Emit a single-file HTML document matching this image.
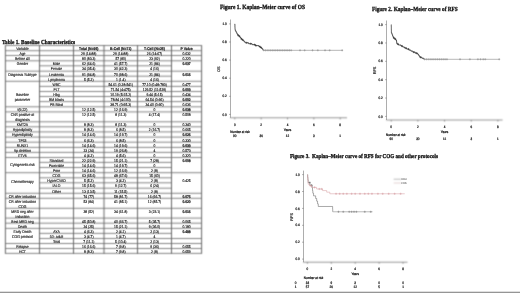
<!DOCTYPE html>
<html><head><meta charset="utf-8"><style>
html,body{margin:0;padding:0;background:#fff;width:520px;height:293px;overflow:hidden}
#w{position:absolute;left:0;top:0;width:520px;height:293px;will-change:transform}
svg{position:absolute;left:0;top:0;display:block}
text{white-space:pre;text-rendering:geometricPrecision}
</style></head><body>
<div id="w"><svg width="520" height="293" viewBox="0 0 520 293">
<defs></defs>
<filter id="soft" filterUnits="userSpaceOnUse" x="0" y="0" width="520" height="293" color-interpolation-filters="sRGB"><feConvolveMatrix order="3" kernelMatrix="1 3 1 3 9 3 1 3 1" edgeMode="duplicate"/></filter>
<g filter="url(#soft)">
<rect x="0" y="0" width="520" height="293" fill="#fff"/>
<line x1="5.40" y1="45.10" x2="5.40" y2="253.80" stroke="#555" stroke-width="0.9"/>
<line x1="39.50" y1="45.10" x2="39.50" y2="253.80" stroke="#555" stroke-width="0.9"/>
<line x1="73.50" y1="45.10" x2="73.50" y2="253.80" stroke="#555" stroke-width="0.9"/>
<line x1="104.00" y1="45.10" x2="104.00" y2="253.80" stroke="#555" stroke-width="0.9"/>
<line x1="137.50" y1="45.10" x2="137.50" y2="253.80" stroke="#555" stroke-width="0.9"/>
<line x1="171.50" y1="45.10" x2="171.50" y2="253.80" stroke="#555" stroke-width="0.9"/>
<line x1="201.60" y1="45.10" x2="201.60" y2="253.80" stroke="#555" stroke-width="0.9"/>
<line x1="5.40" y1="45.50" x2="201.60" y2="45.50" stroke="#666" stroke-width="0.8"/>
<line x1="5.40" y1="50.70" x2="39.50" y2="50.70" stroke="#666" stroke-width="0.8"/>
<line x1="39.50" y1="50.70" x2="171.50" y2="50.70" stroke="#666" stroke-width="0.8"/>
<line x1="171.50" y1="50.70" x2="201.60" y2="50.70" stroke="#666" stroke-width="0.8"/>
<line x1="5.40" y1="55.50" x2="39.50" y2="55.50" stroke="#666" stroke-width="0.8"/>
<line x1="39.50" y1="55.50" x2="171.50" y2="55.50" stroke="#666" stroke-width="0.8"/>
<line x1="171.50" y1="55.50" x2="201.60" y2="55.50" stroke="#666" stroke-width="0.8"/>
<line x1="5.40" y1="60.80" x2="39.50" y2="60.80" stroke="#666" stroke-width="0.8"/>
<line x1="39.50" y1="60.80" x2="171.50" y2="60.80" stroke="#666" stroke-width="0.8"/>
<line x1="171.50" y1="60.80" x2="201.60" y2="60.80" stroke="#666" stroke-width="0.8"/>
<line x1="39.50" y1="65.80" x2="171.50" y2="65.80" stroke="#666" stroke-width="0.8"/>
<line x1="5.40" y1="71.20" x2="39.50" y2="71.20" stroke="#666" stroke-width="0.8"/>
<line x1="39.50" y1="71.20" x2="171.50" y2="71.20" stroke="#666" stroke-width="0.8"/>
<line x1="171.50" y1="71.20" x2="201.60" y2="71.20" stroke="#666" stroke-width="0.8"/>
<line x1="39.50" y1="76.20" x2="171.50" y2="76.20" stroke="#666" stroke-width="0.8"/>
<line x1="5.40" y1="81.30" x2="39.50" y2="81.30" stroke="#666" stroke-width="0.8"/>
<line x1="39.50" y1="81.30" x2="171.50" y2="81.30" stroke="#666" stroke-width="0.8"/>
<line x1="171.50" y1="81.30" x2="201.60" y2="81.30" stroke="#666" stroke-width="0.8"/>
<line x1="39.50" y1="86.40" x2="171.50" y2="86.40" stroke="#666" stroke-width="0.8"/>
<line x1="171.50" y1="86.40" x2="201.60" y2="86.40" stroke="#666" stroke-width="0.8"/>
<line x1="39.50" y1="91.50" x2="171.50" y2="91.50" stroke="#666" stroke-width="0.8"/>
<line x1="171.50" y1="91.50" x2="201.60" y2="91.50" stroke="#666" stroke-width="0.8"/>
<line x1="39.50" y1="96.50" x2="171.50" y2="96.50" stroke="#666" stroke-width="0.8"/>
<line x1="171.50" y1="96.50" x2="201.60" y2="96.50" stroke="#666" stroke-width="0.8"/>
<line x1="39.50" y1="101.60" x2="171.50" y2="101.60" stroke="#666" stroke-width="0.8"/>
<line x1="171.50" y1="101.60" x2="201.60" y2="101.60" stroke="#666" stroke-width="0.8"/>
<line x1="5.40" y1="106.80" x2="39.50" y2="106.80" stroke="#666" stroke-width="0.8"/>
<line x1="39.50" y1="106.80" x2="171.50" y2="106.80" stroke="#666" stroke-width="0.8"/>
<line x1="171.50" y1="106.80" x2="201.60" y2="106.80" stroke="#666" stroke-width="0.8"/>
<line x1="5.40" y1="111.90" x2="39.50" y2="111.90" stroke="#666" stroke-width="0.8"/>
<line x1="39.50" y1="111.90" x2="171.50" y2="111.90" stroke="#666" stroke-width="0.8"/>
<line x1="171.50" y1="111.90" x2="201.60" y2="111.90" stroke="#666" stroke-width="0.8"/>
<line x1="5.40" y1="121.80" x2="39.50" y2="121.80" stroke="#666" stroke-width="0.8"/>
<line x1="39.50" y1="121.80" x2="171.50" y2="121.80" stroke="#666" stroke-width="0.8"/>
<line x1="171.50" y1="121.80" x2="201.60" y2="121.80" stroke="#666" stroke-width="0.8"/>
<line x1="5.40" y1="126.80" x2="39.50" y2="126.80" stroke="#666" stroke-width="0.8"/>
<line x1="39.50" y1="126.80" x2="171.50" y2="126.80" stroke="#666" stroke-width="0.8"/>
<line x1="171.50" y1="126.80" x2="201.60" y2="126.80" stroke="#666" stroke-width="0.8"/>
<line x1="5.40" y1="131.90" x2="39.50" y2="131.90" stroke="#666" stroke-width="0.8"/>
<line x1="39.50" y1="131.90" x2="171.50" y2="131.90" stroke="#666" stroke-width="0.8"/>
<line x1="171.50" y1="131.90" x2="201.60" y2="131.90" stroke="#666" stroke-width="0.8"/>
<line x1="5.40" y1="137.10" x2="39.50" y2="137.10" stroke="#666" stroke-width="0.8"/>
<line x1="39.50" y1="137.10" x2="171.50" y2="137.10" stroke="#666" stroke-width="0.8"/>
<line x1="171.50" y1="137.10" x2="201.60" y2="137.10" stroke="#666" stroke-width="0.8"/>
<line x1="5.40" y1="142.20" x2="39.50" y2="142.20" stroke="#666" stroke-width="0.8"/>
<line x1="39.50" y1="142.20" x2="171.50" y2="142.20" stroke="#666" stroke-width="0.8"/>
<line x1="171.50" y1="142.20" x2="201.60" y2="142.20" stroke="#666" stroke-width="0.8"/>
<line x1="5.40" y1="147.40" x2="39.50" y2="147.40" stroke="#666" stroke-width="0.8"/>
<line x1="39.50" y1="147.40" x2="171.50" y2="147.40" stroke="#666" stroke-width="0.8"/>
<line x1="171.50" y1="147.40" x2="201.60" y2="147.40" stroke="#666" stroke-width="0.8"/>
<line x1="5.40" y1="152.40" x2="39.50" y2="152.40" stroke="#666" stroke-width="0.8"/>
<line x1="39.50" y1="152.40" x2="171.50" y2="152.40" stroke="#666" stroke-width="0.8"/>
<line x1="171.50" y1="152.40" x2="201.60" y2="152.40" stroke="#666" stroke-width="0.8"/>
<line x1="5.40" y1="157.50" x2="39.50" y2="157.50" stroke="#666" stroke-width="0.8"/>
<line x1="39.50" y1="157.50" x2="171.50" y2="157.50" stroke="#666" stroke-width="0.8"/>
<line x1="171.50" y1="157.50" x2="201.60" y2="157.50" stroke="#666" stroke-width="0.8"/>
<line x1="39.50" y1="162.40" x2="171.50" y2="162.40" stroke="#666" stroke-width="0.8"/>
<line x1="39.50" y1="167.50" x2="171.50" y2="167.50" stroke="#666" stroke-width="0.8"/>
<line x1="5.40" y1="172.70" x2="39.50" y2="172.70" stroke="#666" stroke-width="0.8"/>
<line x1="39.50" y1="172.70" x2="171.50" y2="172.70" stroke="#666" stroke-width="0.8"/>
<line x1="171.50" y1="172.70" x2="201.60" y2="172.70" stroke="#666" stroke-width="0.8"/>
<line x1="39.50" y1="177.80" x2="171.50" y2="177.80" stroke="#666" stroke-width="0.8"/>
<line x1="39.50" y1="182.80" x2="171.50" y2="182.80" stroke="#666" stroke-width="0.8"/>
<line x1="39.50" y1="188.20" x2="171.50" y2="188.20" stroke="#666" stroke-width="0.8"/>
<line x1="5.40" y1="193.30" x2="39.50" y2="193.30" stroke="#666" stroke-width="0.8"/>
<line x1="39.50" y1="193.30" x2="171.50" y2="193.30" stroke="#666" stroke-width="0.8"/>
<line x1="171.50" y1="193.30" x2="201.60" y2="193.30" stroke="#666" stroke-width="0.8"/>
<line x1="5.40" y1="198.30" x2="39.50" y2="198.30" stroke="#666" stroke-width="0.8"/>
<line x1="39.50" y1="198.30" x2="171.50" y2="198.30" stroke="#666" stroke-width="0.8"/>
<line x1="171.50" y1="198.30" x2="201.60" y2="198.30" stroke="#666" stroke-width="0.8"/>
<line x1="5.40" y1="208.30" x2="39.50" y2="208.30" stroke="#666" stroke-width="0.8"/>
<line x1="39.50" y1="208.30" x2="171.50" y2="208.30" stroke="#666" stroke-width="0.8"/>
<line x1="171.50" y1="208.30" x2="201.60" y2="208.30" stroke="#666" stroke-width="0.8"/>
<line x1="5.40" y1="218.10" x2="39.50" y2="218.10" stroke="#666" stroke-width="0.8"/>
<line x1="39.50" y1="218.10" x2="171.50" y2="218.10" stroke="#666" stroke-width="0.8"/>
<line x1="171.50" y1="218.10" x2="201.60" y2="218.10" stroke="#666" stroke-width="0.8"/>
<line x1="5.40" y1="223.20" x2="39.50" y2="223.20" stroke="#666" stroke-width="0.8"/>
<line x1="39.50" y1="223.20" x2="171.50" y2="223.20" stroke="#666" stroke-width="0.8"/>
<line x1="171.50" y1="223.20" x2="201.60" y2="223.20" stroke="#666" stroke-width="0.8"/>
<line x1="5.40" y1="228.40" x2="39.50" y2="228.40" stroke="#666" stroke-width="0.8"/>
<line x1="39.50" y1="228.40" x2="171.50" y2="228.40" stroke="#666" stroke-width="0.8"/>
<line x1="171.50" y1="228.40" x2="201.60" y2="228.40" stroke="#666" stroke-width="0.8"/>
<line x1="39.50" y1="233.40" x2="171.50" y2="233.40" stroke="#666" stroke-width="0.8"/>
<line x1="39.50" y1="238.50" x2="171.50" y2="238.50" stroke="#666" stroke-width="0.8"/>
<line x1="171.50" y1="238.50" x2="201.60" y2="238.50" stroke="#666" stroke-width="0.8"/>
<line x1="5.40" y1="243.50" x2="39.50" y2="243.50" stroke="#666" stroke-width="0.8"/>
<line x1="39.50" y1="243.50" x2="171.50" y2="243.50" stroke="#666" stroke-width="0.8"/>
<line x1="171.50" y1="243.50" x2="201.60" y2="243.50" stroke="#666" stroke-width="0.8"/>
<line x1="5.40" y1="248.50" x2="39.50" y2="248.50" stroke="#666" stroke-width="0.8"/>
<line x1="39.50" y1="248.50" x2="171.50" y2="248.50" stroke="#666" stroke-width="0.8"/>
<line x1="171.50" y1="248.50" x2="201.60" y2="248.50" stroke="#666" stroke-width="0.8"/>
<line x1="5.40" y1="253.40" x2="39.50" y2="253.40" stroke="#666" stroke-width="0.8"/>
<line x1="39.50" y1="253.40" x2="171.50" y2="253.40" stroke="#666" stroke-width="0.8"/>
<line x1="171.50" y1="253.40" x2="201.60" y2="253.40" stroke="#666" stroke-width="0.8"/>
<line x1="230.10" y1="117.80" x2="347.00" y2="117.80" stroke="#8a8a8a" stroke-width="0.9"/>
<line x1="234.80" y1="117.80" x2="234.80" y2="119.40" stroke="#6a6a6a" stroke-width="0.7"/>
<line x1="261.15" y1="117.80" x2="261.15" y2="119.40" stroke="#6a6a6a" stroke-width="0.7"/>
<line x1="287.50" y1="117.80" x2="287.50" y2="119.40" stroke="#6a6a6a" stroke-width="0.7"/>
<line x1="313.85" y1="117.80" x2="313.85" y2="119.40" stroke="#6a6a6a" stroke-width="0.7"/>
<line x1="340.20" y1="117.80" x2="340.20" y2="119.40" stroke="#6a6a6a" stroke-width="0.7"/>
<line x1="386.10" y1="120.00" x2="502.60" y2="120.00" stroke="#8a8a8a" stroke-width="0.9"/>
<line x1="391.20" y1="120.00" x2="391.20" y2="121.60" stroke="#6a6a6a" stroke-width="0.7"/>
<line x1="417.88" y1="120.00" x2="417.88" y2="121.60" stroke="#6a6a6a" stroke-width="0.7"/>
<line x1="444.55" y1="120.00" x2="444.55" y2="121.60" stroke="#6a6a6a" stroke-width="0.7"/>
<line x1="471.22" y1="120.00" x2="471.22" y2="121.60" stroke="#6a6a6a" stroke-width="0.7"/>
<line x1="497.90" y1="120.00" x2="497.90" y2="121.60" stroke="#6a6a6a" stroke-width="0.7"/>
<line x1="303.10" y1="262.20" x2="407.50" y2="262.20" stroke="#8a8a8a" stroke-width="0.9"/>
<line x1="307.40" y1="262.20" x2="307.40" y2="263.80" stroke="#6a6a6a" stroke-width="0.7"/>
<line x1="331.30" y1="262.20" x2="331.30" y2="263.80" stroke="#6a6a6a" stroke-width="0.7"/>
<line x1="355.20" y1="262.20" x2="355.20" y2="263.80" stroke="#6a6a6a" stroke-width="0.7"/>
<line x1="379.10" y1="262.20" x2="379.10" y2="263.80" stroke="#6a6a6a" stroke-width="0.7"/>
<line x1="403.00" y1="262.20" x2="403.00" y2="263.80" stroke="#6a6a6a" stroke-width="0.7"/>
<line x1="393.70" y1="179.20" x2="401.00" y2="179.20" stroke="#777" stroke-width="0.5"/>
<line x1="393.70" y1="183.00" x2="401.00" y2="183.00" stroke="#c4a4a6" stroke-width="0.5"/>
</g>
<rect x="0" y="291.7" width="520" height="1.3" fill="#959595"/>
<text transform="translate(2.00,43.60) scale(0.870,1)" font-family="Liberation Serif" font-size="6.05" font-weight="bold" fill="#111" stroke="#111" stroke-width="0.300" stroke-linejoin="round">Table 1. Baseline Characteristics</text>
<text transform="translate(220.00,8.70) scale(0.860,1)" font-family="Liberation Serif" font-size="6.35" font-weight="bold" fill="#111" stroke="#111" stroke-width="0.300" stroke-linejoin="round">Figure 1. Kaplan–Meier curve of OS</text>
<text transform="translate(372.00,11.40) scale(0.860,1)" font-family="Liberation Serif" font-size="6.20" font-weight="bold" fill="#111" stroke="#111" stroke-width="0.300" stroke-linejoin="round">Figure 2. Kaplan–Meier curve of RFS</text>
<text transform="translate(290.00,158.00) scale(0.860,1)" font-family="Liberation Serif" font-size="5.95" font-weight="bold" fill="#111" stroke="#111" stroke-width="0.300" stroke-linejoin="round">Figure 3.  Kaplan–Meier curve of RFS for COG and other protocols</text>
<text transform="translate(22.45,49.90) scale(0.860,1)" font-family="Liberation Sans" font-size="3.98" text-anchor="middle" fill="#222" stroke="#222" stroke-width="0.150" stroke-linejoin="round">Variable</text>
<text transform="translate(88.75,49.90) scale(0.860,1)" font-family="Liberation Sans" font-size="3.98" font-weight="bold" text-anchor="middle" fill="#222" stroke="#222" stroke-width="0.200" stroke-linejoin="round">Total (N=96)</text>
<text transform="translate(120.75,49.90) scale(0.860,1)" font-family="Liberation Sans" font-size="3.98" font-weight="bold" text-anchor="middle" fill="#222" stroke="#222" stroke-width="0.200" stroke-linejoin="round">B-Cell (N=71)</text>
<text transform="translate(154.50,49.90) scale(0.860,1)" font-family="Liberation Sans" font-size="3.98" font-weight="bold" text-anchor="middle" fill="#222" stroke="#222" stroke-width="0.200" stroke-linejoin="round">T-Cell (N=25)</text>
<text transform="translate(186.55,49.90) scale(0.860,1)" font-family="Liberation Sans" font-size="3.98" font-weight="bold" text-anchor="middle" fill="#222" stroke="#222" stroke-width="0.200" stroke-linejoin="round">P Value</text>
<text transform="translate(22.45,54.80) scale(0.860,1)" font-family="Liberation Sans" font-size="3.98" text-anchor="middle" fill="#222" stroke="#222" stroke-width="0.150" stroke-linejoin="round">Age</text>
<text transform="translate(88.75,54.80) scale(0.860,1)" font-family="Liberation Sans" font-size="3.86" text-anchor="middle" fill="#222" stroke="#222" stroke-width="0.150" stroke-linejoin="round">29 (14-88)</text>
<text transform="translate(120.75,54.80) scale(0.860,1)" font-family="Liberation Sans" font-size="3.86" text-anchor="middle" fill="#222" stroke="#222" stroke-width="0.150" stroke-linejoin="round">29 (14-88)</text>
<text transform="translate(154.50,54.80) scale(0.860,1)" font-family="Liberation Sans" font-size="3.86" text-anchor="middle" fill="#222" stroke="#222" stroke-width="0.150" stroke-linejoin="round">26 (14-67)</text>
<text transform="translate(186.55,54.80) scale(0.860,1)" font-family="Liberation Sans" font-size="3.86" text-anchor="middle" fill="#222" stroke="#222" stroke-width="0.150" stroke-linejoin="round">0.632</text>
<text transform="translate(22.45,59.90) scale(0.860,1)" font-family="Liberation Sans" font-size="3.98" text-anchor="middle" fill="#222" stroke="#222" stroke-width="0.150" stroke-linejoin="round">Before 40</text>
<text transform="translate(88.75,59.90) scale(0.860,1)" font-family="Liberation Sans" font-size="3.86" text-anchor="middle" fill="#222" stroke="#222" stroke-width="0.150" stroke-linejoin="round">80 (83.3)</text>
<text transform="translate(120.75,59.90) scale(0.860,1)" font-family="Liberation Sans" font-size="3.86" text-anchor="middle" fill="#222" stroke="#222" stroke-width="0.150" stroke-linejoin="round">57 (80)</text>
<text transform="translate(154.50,59.90) scale(0.860,1)" font-family="Liberation Sans" font-size="3.86" text-anchor="middle" fill="#222" stroke="#222" stroke-width="0.150" stroke-linejoin="round">23 (92)</text>
<text transform="translate(186.55,59.90) scale(0.860,1)" font-family="Liberation Sans" font-size="3.86" text-anchor="middle" fill="#222" stroke="#222" stroke-width="0.150" stroke-linejoin="round">0.220</text>
<text transform="translate(22.45,65.10) scale(0.860,1)" font-family="Liberation Sans" font-size="3.98" text-anchor="middle" fill="#222" stroke="#222" stroke-width="0.150" stroke-linejoin="round">Gender</text>
<text transform="translate(56.50,65.10) scale(0.860,1)" font-family="Liberation Sans" font-size="3.98" text-anchor="middle" fill="#222" stroke="#222" stroke-width="0.150" stroke-linejoin="round">Male</text>
<text transform="translate(88.75,65.10) scale(0.860,1)" font-family="Liberation Sans" font-size="3.86" text-anchor="middle" fill="#222" stroke="#222" stroke-width="0.150" stroke-linejoin="round">62 (64.6)</text>
<text transform="translate(120.75,65.10) scale(0.860,1)" font-family="Liberation Sans" font-size="3.86" text-anchor="middle" fill="#222" stroke="#222" stroke-width="0.150" stroke-linejoin="round">41 (57.7)</text>
<text transform="translate(154.50,65.10) scale(0.860,1)" font-family="Liberation Sans" font-size="3.86" text-anchor="middle" fill="#222" stroke="#222" stroke-width="0.150" stroke-linejoin="round">21 (84)</text>
<text transform="translate(186.55,65.10) scale(0.860,1)" font-family="Liberation Sans" font-size="3.86" font-weight="bold" text-anchor="middle" fill="#222" stroke="#222" stroke-width="0.200" stroke-linejoin="round">0.037</text>
<text transform="translate(56.50,70.20) scale(0.860,1)" font-family="Liberation Sans" font-size="3.98" text-anchor="middle" fill="#222" stroke="#222" stroke-width="0.150" stroke-linejoin="round">Female</text>
<text transform="translate(88.75,70.20) scale(0.860,1)" font-family="Liberation Sans" font-size="3.86" text-anchor="middle" fill="#222" stroke="#222" stroke-width="0.150" stroke-linejoin="round">34 (35.4)</text>
<text transform="translate(120.75,70.20) scale(0.860,1)" font-family="Liberation Sans" font-size="3.86" text-anchor="middle" fill="#222" stroke="#222" stroke-width="0.150" stroke-linejoin="round">30 (42.3)</text>
<text transform="translate(154.50,70.20) scale(0.860,1)" font-family="Liberation Sans" font-size="3.86" text-anchor="middle" fill="#222" stroke="#222" stroke-width="0.150" stroke-linejoin="round">4 (16)</text>
<text transform="translate(22.45,75.50) scale(0.860,1)" font-family="Liberation Sans" font-size="3.98" text-anchor="middle" fill="#222" stroke="#222" stroke-width="0.150" stroke-linejoin="round">Diagnosis Subtype</text>
<text transform="translate(56.50,75.50) scale(0.860,1)" font-family="Liberation Sans" font-size="3.98" text-anchor="middle" fill="#222" stroke="#222" stroke-width="0.150" stroke-linejoin="round">Leukemia</text>
<text transform="translate(88.75,75.50) scale(0.860,1)" font-family="Liberation Sans" font-size="3.86" text-anchor="middle" fill="#222" stroke="#222" stroke-width="0.150" stroke-linejoin="round">91 (94.8)</text>
<text transform="translate(120.75,75.50) scale(0.860,1)" font-family="Liberation Sans" font-size="3.86" text-anchor="middle" fill="#222" stroke="#222" stroke-width="0.150" stroke-linejoin="round">70 (98.6)</text>
<text transform="translate(154.50,75.50) scale(0.860,1)" font-family="Liberation Sans" font-size="3.86" text-anchor="middle" fill="#222" stroke="#222" stroke-width="0.150" stroke-linejoin="round">21 (84)</text>
<text transform="translate(186.55,75.50) scale(0.860,1)" font-family="Liberation Sans" font-size="3.86" font-weight="bold" text-anchor="middle" fill="#222" stroke="#222" stroke-width="0.200" stroke-linejoin="round">0.016</text>
<text transform="translate(56.50,80.60) scale(0.860,1)" font-family="Liberation Sans" font-size="3.98" text-anchor="middle" fill="#222" stroke="#222" stroke-width="0.150" stroke-linejoin="round">Lymphoma</text>
<text transform="translate(88.75,80.60) scale(0.860,1)" font-family="Liberation Sans" font-size="3.86" text-anchor="middle" fill="#222" stroke="#222" stroke-width="0.150" stroke-linejoin="round">5 (5.2)</text>
<text transform="translate(120.75,80.60) scale(0.860,1)" font-family="Liberation Sans" font-size="3.86" text-anchor="middle" fill="#222" stroke="#222" stroke-width="0.150" stroke-linejoin="round">1 (1.4)</text>
<text transform="translate(154.50,80.60) scale(0.860,1)" font-family="Liberation Sans" font-size="3.86" text-anchor="middle" fill="#222" stroke="#222" stroke-width="0.150" stroke-linejoin="round">4 (16)</text>
<text transform="translate(22.45,95.75) scale(0.860,1)" font-family="Liberation Sans" font-size="3.98" text-anchor="middle" fill="#222" stroke="#222" stroke-width="0.150" stroke-linejoin="round">Baseline</text>
<text transform="translate(22.45,100.65) scale(0.860,1)" font-family="Liberation Sans" font-size="3.98" text-anchor="middle" fill="#222" stroke="#222" stroke-width="0.150" stroke-linejoin="round">parameter</text>
<text transform="translate(56.50,85.70) scale(0.860,1)" font-family="Liberation Sans" font-size="3.98" text-anchor="middle" fill="#222" stroke="#222" stroke-width="0.150" stroke-linejoin="round">WBC</text>
<text transform="translate(120.75,85.70) scale(0.860,1)" font-family="Liberation Sans" font-size="3.86" text-anchor="middle" fill="#222" stroke="#222" stroke-width="0.150" stroke-linejoin="round">54.61 (0.28-541)</text>
<text transform="translate(154.50,85.70) scale(0.860,1)" font-family="Liberation Sans" font-size="3.86" text-anchor="middle" fill="#222" stroke="#222" stroke-width="0.150" stroke-linejoin="round">77.10 (0.48-783)</text>
<text transform="translate(186.55,85.70) scale(0.860,1)" font-family="Liberation Sans" font-size="3.86" text-anchor="middle" fill="#222" stroke="#222" stroke-width="0.150" stroke-linejoin="round">0.477</text>
<text transform="translate(56.50,90.80) scale(0.860,1)" font-family="Liberation Sans" font-size="3.98" text-anchor="middle" fill="#222" stroke="#222" stroke-width="0.150" stroke-linejoin="round">PLT</text>
<text transform="translate(120.75,90.80) scale(0.860,1)" font-family="Liberation Sans" font-size="3.86" text-anchor="middle" fill="#222" stroke="#222" stroke-width="0.150" stroke-linejoin="round">71.54 (4-475)</text>
<text transform="translate(154.50,90.80) scale(0.860,1)" font-family="Liberation Sans" font-size="3.86" text-anchor="middle" fill="#222" stroke="#222" stroke-width="0.150" stroke-linejoin="round">129.52 (11-529)</text>
<text transform="translate(186.55,90.80) scale(0.860,1)" font-family="Liberation Sans" font-size="3.86" font-weight="bold" text-anchor="middle" fill="#222" stroke="#222" stroke-width="0.200" stroke-linejoin="round">0.003</text>
<text transform="translate(56.50,95.80) scale(0.860,1)" font-family="Liberation Sans" font-size="3.98" text-anchor="middle" fill="#222" stroke="#222" stroke-width="0.150" stroke-linejoin="round">Hbg</text>
<text transform="translate(120.75,95.80) scale(0.860,1)" font-family="Liberation Sans" font-size="3.86" text-anchor="middle" fill="#222" stroke="#222" stroke-width="0.150" stroke-linejoin="round">10.19 (5-15.2)</text>
<text transform="translate(154.50,95.80) scale(0.860,1)" font-family="Liberation Sans" font-size="3.86" text-anchor="middle" fill="#222" stroke="#222" stroke-width="0.150" stroke-linejoin="round">9.44 (5-15)</text>
<text transform="translate(186.55,95.80) scale(0.860,1)" font-family="Liberation Sans" font-size="3.86" text-anchor="middle" fill="#222" stroke="#222" stroke-width="0.150" stroke-linejoin="round">0.434</text>
<text transform="translate(56.50,100.90) scale(0.860,1)" font-family="Liberation Sans" font-size="3.98" text-anchor="middle" fill="#222" stroke="#222" stroke-width="0.150" stroke-linejoin="round">BM blasts</text>
<text transform="translate(120.75,100.90) scale(0.860,1)" font-family="Liberation Sans" font-size="3.86" text-anchor="middle" fill="#222" stroke="#222" stroke-width="0.150" stroke-linejoin="round">78.84 (4-100)</text>
<text transform="translate(154.50,100.90) scale(0.860,1)" font-family="Liberation Sans" font-size="3.86" text-anchor="middle" fill="#222" stroke="#222" stroke-width="0.150" stroke-linejoin="round">64.54 (0-96)</text>
<text transform="translate(186.55,100.90) scale(0.860,1)" font-family="Liberation Sans" font-size="3.86" font-weight="bold" text-anchor="middle" fill="#222" stroke="#222" stroke-width="0.200" stroke-linejoin="round">0.002</text>
<text transform="translate(56.50,106.00) scale(0.860,1)" font-family="Liberation Sans" font-size="3.98" text-anchor="middle" fill="#222" stroke="#222" stroke-width="0.150" stroke-linejoin="round">PB Blast</text>
<text transform="translate(120.75,106.00) scale(0.860,1)" font-family="Liberation Sans" font-size="3.86" text-anchor="middle" fill="#222" stroke="#222" stroke-width="0.150" stroke-linejoin="round">38.71 (0-95.3)</text>
<text transform="translate(154.50,106.00) scale(0.860,1)" font-family="Liberation Sans" font-size="3.86" text-anchor="middle" fill="#222" stroke="#222" stroke-width="0.150" stroke-linejoin="round">34.40 (0-90)</text>
<text transform="translate(186.55,106.00) scale(0.860,1)" font-family="Liberation Sans" font-size="3.86" text-anchor="middle" fill="#222" stroke="#222" stroke-width="0.150" stroke-linejoin="round">0.636</text>
<text transform="translate(22.45,111.20) scale(0.860,1)" font-family="Liberation Sans" font-size="3.98" text-anchor="middle" fill="#222" stroke="#222" stroke-width="0.150" stroke-linejoin="round">t(9;22)</text>
<text transform="translate(88.75,111.20) scale(0.860,1)" font-family="Liberation Sans" font-size="3.86" text-anchor="middle" fill="#222" stroke="#222" stroke-width="0.150" stroke-linejoin="round">12 (12.5)</text>
<text transform="translate(120.75,111.20) scale(0.860,1)" font-family="Liberation Sans" font-size="3.86" text-anchor="middle" fill="#222" stroke="#222" stroke-width="0.150" stroke-linejoin="round">12 (16.9)</text>
<text transform="translate(154.50,111.20) scale(0.860,1)" font-family="Liberation Sans" font-size="3.86" text-anchor="middle" fill="#222" stroke="#222" stroke-width="0.150" stroke-linejoin="round">0</text>
<text transform="translate(186.55,111.20) scale(0.860,1)" font-family="Liberation Sans" font-size="3.86" font-weight="bold" text-anchor="middle" fill="#222" stroke="#222" stroke-width="0.200" stroke-linejoin="round">0.038</text>
<text transform="translate(22.45,116.30) scale(0.860,1)" font-family="Liberation Sans" font-size="3.98" text-anchor="middle" fill="#222" stroke="#222" stroke-width="0.150" stroke-linejoin="round">CNS positive at</text>
<text transform="translate(22.45,121.20) scale(0.860,1)" font-family="Liberation Sans" font-size="3.98" text-anchor="middle" fill="#222" stroke="#222" stroke-width="0.150" stroke-linejoin="round">diagnosis</text>
<text transform="translate(88.75,116.30) scale(0.860,1)" font-family="Liberation Sans" font-size="3.86" text-anchor="middle" fill="#222" stroke="#222" stroke-width="0.150" stroke-linejoin="round">12 (12.5)</text>
<text transform="translate(120.75,116.30) scale(0.860,1)" font-family="Liberation Sans" font-size="3.86" text-anchor="middle" fill="#222" stroke="#222" stroke-width="0.150" stroke-linejoin="round">8 (11.3)</text>
<text transform="translate(154.50,116.30) scale(0.860,1)" font-family="Liberation Sans" font-size="3.86" text-anchor="middle" fill="#222" stroke="#222" stroke-width="0.150" stroke-linejoin="round">4 (17.4)</text>
<text transform="translate(186.55,116.30) scale(0.860,1)" font-family="Liberation Sans" font-size="3.86" text-anchor="middle" fill="#222" stroke="#222" stroke-width="0.150" stroke-linejoin="round">0.508</text>
<text transform="translate(22.45,126.10) scale(0.860,1)" font-family="Liberation Sans" font-size="3.98" text-anchor="middle" fill="#222" stroke="#222" stroke-width="0.150" stroke-linejoin="round">KMT2A</text>
<text transform="translate(88.75,126.10) scale(0.860,1)" font-family="Liberation Sans" font-size="3.86" text-anchor="middle" fill="#222" stroke="#222" stroke-width="0.150" stroke-linejoin="round">8 (8.3)</text>
<text transform="translate(120.75,126.10) scale(0.860,1)" font-family="Liberation Sans" font-size="3.86" text-anchor="middle" fill="#222" stroke="#222" stroke-width="0.150" stroke-linejoin="round">8 (11.3)</text>
<text transform="translate(154.50,126.10) scale(0.860,1)" font-family="Liberation Sans" font-size="3.86" text-anchor="middle" fill="#222" stroke="#222" stroke-width="0.150" stroke-linejoin="round">0</text>
<text transform="translate(186.55,126.10) scale(0.860,1)" font-family="Liberation Sans" font-size="3.86" text-anchor="middle" fill="#222" stroke="#222" stroke-width="0.150" stroke-linejoin="round">0.340</text>
<text transform="translate(22.45,131.20) scale(0.860,1)" font-family="Liberation Sans" font-size="3.98" text-anchor="middle" fill="#222" stroke="#222" stroke-width="0.150" stroke-linejoin="round">Hypodiploidy</text>
<text transform="translate(88.75,131.20) scale(0.860,1)" font-family="Liberation Sans" font-size="3.86" text-anchor="middle" fill="#222" stroke="#222" stroke-width="0.150" stroke-linejoin="round">8 (8.3)</text>
<text transform="translate(120.75,131.20) scale(0.860,1)" font-family="Liberation Sans" font-size="3.86" text-anchor="middle" fill="#222" stroke="#222" stroke-width="0.150" stroke-linejoin="round">6 (8.5)</text>
<text transform="translate(154.50,131.20) scale(0.860,1)" font-family="Liberation Sans" font-size="3.86" text-anchor="middle" fill="#222" stroke="#222" stroke-width="0.150" stroke-linejoin="round">2 (16.7)</text>
<text transform="translate(186.55,131.20) scale(0.860,1)" font-family="Liberation Sans" font-size="3.86" text-anchor="middle" fill="#222" stroke="#222" stroke-width="0.150" stroke-linejoin="round">0.665</text>
<text transform="translate(22.45,136.30) scale(0.860,1)" font-family="Liberation Sans" font-size="3.98" text-anchor="middle" fill="#222" stroke="#222" stroke-width="0.150" stroke-linejoin="round">Hyperdiploidy</text>
<text transform="translate(88.75,136.30) scale(0.860,1)" font-family="Liberation Sans" font-size="3.86" text-anchor="middle" fill="#222" stroke="#222" stroke-width="0.150" stroke-linejoin="round">14 (14.6)</text>
<text transform="translate(120.75,136.30) scale(0.860,1)" font-family="Liberation Sans" font-size="3.86" text-anchor="middle" fill="#222" stroke="#222" stroke-width="0.150" stroke-linejoin="round">14 (19.7)</text>
<text transform="translate(154.50,136.30) scale(0.860,1)" font-family="Liberation Sans" font-size="3.86" text-anchor="middle" fill="#222" stroke="#222" stroke-width="0.150" stroke-linejoin="round">0</text>
<text transform="translate(186.55,136.30) scale(0.860,1)" font-family="Liberation Sans" font-size="3.86" font-weight="bold" text-anchor="middle" fill="#222" stroke="#222" stroke-width="0.200" stroke-linejoin="round">0.026</text>
<text transform="translate(22.45,141.50) scale(0.860,1)" font-family="Liberation Sans" font-size="3.98" text-anchor="middle" fill="#222" stroke="#222" stroke-width="0.150" stroke-linejoin="round">TP53</text>
<text transform="translate(88.75,141.50) scale(0.860,1)" font-family="Liberation Sans" font-size="3.86" text-anchor="middle" fill="#222" stroke="#222" stroke-width="0.150" stroke-linejoin="round">6 (6.3)</text>
<text transform="translate(120.75,141.50) scale(0.860,1)" font-family="Liberation Sans" font-size="3.86" text-anchor="middle" fill="#222" stroke="#222" stroke-width="0.150" stroke-linejoin="round">6 (8.5)</text>
<text transform="translate(154.50,141.50) scale(0.860,1)" font-family="Liberation Sans" font-size="3.86" text-anchor="middle" fill="#222" stroke="#222" stroke-width="0.150" stroke-linejoin="round">0</text>
<text transform="translate(186.55,141.50) scale(0.860,1)" font-family="Liberation Sans" font-size="3.86" text-anchor="middle" fill="#222" stroke="#222" stroke-width="0.150" stroke-linejoin="round">0.330</text>
<text transform="translate(22.45,146.60) scale(0.860,1)" font-family="Liberation Sans" font-size="3.98" text-anchor="middle" fill="#222" stroke="#222" stroke-width="0.150" stroke-linejoin="round">RUNX1</text>
<text transform="translate(88.75,146.60) scale(0.860,1)" font-family="Liberation Sans" font-size="3.86" text-anchor="middle" fill="#222" stroke="#222" stroke-width="0.150" stroke-linejoin="round">14 (14.6)</text>
<text transform="translate(120.75,146.60) scale(0.860,1)" font-family="Liberation Sans" font-size="3.86" text-anchor="middle" fill="#222" stroke="#222" stroke-width="0.150" stroke-linejoin="round">14 (19.6)</text>
<text transform="translate(154.50,146.60) scale(0.860,1)" font-family="Liberation Sans" font-size="3.86" text-anchor="middle" fill="#222" stroke="#222" stroke-width="0.150" stroke-linejoin="round">0</text>
<text transform="translate(186.55,146.60) scale(0.860,1)" font-family="Liberation Sans" font-size="3.86" font-weight="bold" text-anchor="middle" fill="#222" stroke="#222" stroke-width="0.200" stroke-linejoin="round">0.033</text>
<text transform="translate(22.45,151.70) scale(0.860,1)" font-family="Liberation Sans" font-size="3.98" text-anchor="middle" fill="#222" stroke="#222" stroke-width="0.150" stroke-linejoin="round">9p deletion</text>
<text transform="translate(88.75,151.70) scale(0.860,1)" font-family="Liberation Sans" font-size="3.86" text-anchor="middle" fill="#222" stroke="#222" stroke-width="0.150" stroke-linejoin="round">23 (24)</text>
<text transform="translate(120.75,151.70) scale(0.860,1)" font-family="Liberation Sans" font-size="3.86" text-anchor="middle" fill="#222" stroke="#222" stroke-width="0.150" stroke-linejoin="round">19 (26.8)</text>
<text transform="translate(154.50,151.70) scale(0.860,1)" font-family="Liberation Sans" font-size="3.86" text-anchor="middle" fill="#222" stroke="#222" stroke-width="0.150" stroke-linejoin="round">4</text>
<text transform="translate(186.55,151.70) scale(0.860,1)" font-family="Liberation Sans" font-size="3.86" text-anchor="middle" fill="#222" stroke="#222" stroke-width="0.150" stroke-linejoin="round">0.573</text>
<text transform="translate(22.45,156.80) scale(0.860,1)" font-family="Liberation Sans" font-size="3.98" text-anchor="middle" fill="#222" stroke="#222" stroke-width="0.150" stroke-linejoin="round">ETV6</text>
<text transform="translate(88.75,156.80) scale(0.860,1)" font-family="Liberation Sans" font-size="3.86" text-anchor="middle" fill="#222" stroke="#222" stroke-width="0.150" stroke-linejoin="round">4 (4.2)</text>
<text transform="translate(120.75,156.80) scale(0.860,1)" font-family="Liberation Sans" font-size="3.86" text-anchor="middle" fill="#222" stroke="#222" stroke-width="0.150" stroke-linejoin="round">4 (5.6)</text>
<text transform="translate(154.50,156.80) scale(0.860,1)" font-family="Liberation Sans" font-size="3.86" text-anchor="middle" fill="#222" stroke="#222" stroke-width="0.150" stroke-linejoin="round">0</text>
<text transform="translate(186.55,156.80) scale(0.860,1)" font-family="Liberation Sans" font-size="3.86" text-anchor="middle" fill="#222" stroke="#222" stroke-width="0.150" stroke-linejoin="round">0.320</text>
<text transform="translate(22.45,166.05) scale(0.860,1)" font-family="Liberation Sans" font-size="3.98" text-anchor="middle" fill="#222" stroke="#222" stroke-width="0.150" stroke-linejoin="round">Cytogenetic risk</text>
<text transform="translate(56.50,161.70) scale(0.860,1)" font-family="Liberation Sans" font-size="3.98" text-anchor="middle" fill="#222" stroke="#222" stroke-width="0.150" stroke-linejoin="round">Standard</text>
<text transform="translate(88.75,161.70) scale(0.860,1)" font-family="Liberation Sans" font-size="3.86" text-anchor="middle" fill="#222" stroke="#222" stroke-width="0.150" stroke-linejoin="round">22 (22.9)</text>
<text transform="translate(120.75,161.70) scale(0.860,1)" font-family="Liberation Sans" font-size="3.86" text-anchor="middle" fill="#222" stroke="#222" stroke-width="0.150" stroke-linejoin="round">15 (21.1)</text>
<text transform="translate(154.50,161.70) scale(0.860,1)" font-family="Liberation Sans" font-size="3.86" text-anchor="middle" fill="#222" stroke="#222" stroke-width="0.150" stroke-linejoin="round">7 (28)</text>
<text transform="translate(186.55,161.70) scale(0.860,1)" font-family="Liberation Sans" font-size="3.86" font-weight="bold" text-anchor="middle" fill="#222" stroke="#222" stroke-width="0.200" stroke-linejoin="round">0.008</text>
<text transform="translate(56.50,166.80) scale(0.860,1)" font-family="Liberation Sans" font-size="3.98" text-anchor="middle" fill="#222" stroke="#222" stroke-width="0.150" stroke-linejoin="round">Favorable</text>
<text transform="translate(88.75,166.80) scale(0.860,1)" font-family="Liberation Sans" font-size="3.86" text-anchor="middle" fill="#222" stroke="#222" stroke-width="0.150" stroke-linejoin="round">14 (14.6)</text>
<text transform="translate(120.75,166.80) scale(0.860,1)" font-family="Liberation Sans" font-size="3.86" text-anchor="middle" fill="#222" stroke="#222" stroke-width="0.150" stroke-linejoin="round">14 (19.7)</text>
<text transform="translate(154.50,166.80) scale(0.860,1)" font-family="Liberation Sans" font-size="3.86" text-anchor="middle" fill="#222" stroke="#222" stroke-width="0.150" stroke-linejoin="round">0</text>
<text transform="translate(56.50,171.90) scale(0.860,1)" font-family="Liberation Sans" font-size="3.98" text-anchor="middle" fill="#222" stroke="#222" stroke-width="0.150" stroke-linejoin="round">Poor</text>
<text transform="translate(88.75,171.90) scale(0.860,1)" font-family="Liberation Sans" font-size="3.86" text-anchor="middle" fill="#222" stroke="#222" stroke-width="0.150" stroke-linejoin="round">14 (14.6)</text>
<text transform="translate(120.75,171.90) scale(0.860,1)" font-family="Liberation Sans" font-size="3.86" text-anchor="middle" fill="#222" stroke="#222" stroke-width="0.150" stroke-linejoin="round">12 (16.9)</text>
<text transform="translate(154.50,171.90) scale(0.860,1)" font-family="Liberation Sans" font-size="3.86" text-anchor="middle" fill="#222" stroke="#222" stroke-width="0.150" stroke-linejoin="round">2 (8)</text>
<text transform="translate(22.45,183.05) scale(0.860,1)" font-family="Liberation Sans" font-size="3.98" text-anchor="middle" fill="#222" stroke="#222" stroke-width="0.150" stroke-linejoin="round">Chemotherapy</text>
<text transform="translate(56.50,177.10) scale(0.860,1)" font-family="Liberation Sans" font-size="3.98" text-anchor="middle" fill="#222" stroke="#222" stroke-width="0.150" stroke-linejoin="round">COG</text>
<text transform="translate(88.75,177.10) scale(0.860,1)" font-family="Liberation Sans" font-size="3.86" text-anchor="middle" fill="#222" stroke="#222" stroke-width="0.150" stroke-linejoin="round">63 (65.6)</text>
<text transform="translate(120.75,177.10) scale(0.860,1)" font-family="Liberation Sans" font-size="3.86" text-anchor="middle" fill="#222" stroke="#222" stroke-width="0.150" stroke-linejoin="round">48 (67.6)</text>
<text transform="translate(154.50,177.10) scale(0.860,1)" font-family="Liberation Sans" font-size="3.86" text-anchor="middle" fill="#222" stroke="#222" stroke-width="0.150" stroke-linejoin="round">15 (60)</text>
<text transform="translate(186.55,181.60) scale(0.860,1)" font-family="Liberation Sans" font-size="3.86" text-anchor="middle" fill="#222" stroke="#222" stroke-width="0.150" stroke-linejoin="round">0.425</text>
<text transform="translate(56.50,182.10) scale(0.860,1)" font-family="Liberation Sans" font-size="3.98" text-anchor="middle" fill="#222" stroke="#222" stroke-width="0.150" stroke-linejoin="round">HyperCVAD</text>
<text transform="translate(88.75,182.10) scale(0.860,1)" font-family="Liberation Sans" font-size="3.86" text-anchor="middle" fill="#222" stroke="#222" stroke-width="0.150" stroke-linejoin="round">5 (5.2)</text>
<text transform="translate(120.75,182.10) scale(0.860,1)" font-family="Liberation Sans" font-size="3.86" text-anchor="middle" fill="#222" stroke="#222" stroke-width="0.150" stroke-linejoin="round">3 (4.2)</text>
<text transform="translate(154.50,182.10) scale(0.860,1)" font-family="Liberation Sans" font-size="3.86" text-anchor="middle" fill="#222" stroke="#222" stroke-width="0.150" stroke-linejoin="round">2 (8)</text>
<text transform="translate(56.50,187.20) scale(0.860,1)" font-family="Liberation Sans" font-size="3.98" text-anchor="middle" fill="#222" stroke="#222" stroke-width="0.150" stroke-linejoin="round">IALO</text>
<text transform="translate(88.75,187.20) scale(0.860,1)" font-family="Liberation Sans" font-size="3.86" text-anchor="middle" fill="#222" stroke="#222" stroke-width="0.150" stroke-linejoin="round">15 (15.6)</text>
<text transform="translate(120.75,187.20) scale(0.860,1)" font-family="Liberation Sans" font-size="3.86" text-anchor="middle" fill="#222" stroke="#222" stroke-width="0.150" stroke-linejoin="round">9 (12.7)</text>
<text transform="translate(154.50,187.20) scale(0.860,1)" font-family="Liberation Sans" font-size="3.86" text-anchor="middle" fill="#222" stroke="#222" stroke-width="0.150" stroke-linejoin="round">6 (24)</text>
<text transform="translate(56.50,192.60) scale(0.860,1)" font-family="Liberation Sans" font-size="3.98" text-anchor="middle" fill="#222" stroke="#222" stroke-width="0.150" stroke-linejoin="round">Other</text>
<text transform="translate(88.75,192.60) scale(0.860,1)" font-family="Liberation Sans" font-size="3.86" text-anchor="middle" fill="#222" stroke="#222" stroke-width="0.150" stroke-linejoin="round">13 (13.5)</text>
<text transform="translate(120.75,192.60) scale(0.860,1)" font-family="Liberation Sans" font-size="3.86" text-anchor="middle" fill="#222" stroke="#222" stroke-width="0.150" stroke-linejoin="round">11 (15.5)</text>
<text transform="translate(154.50,192.60) scale(0.860,1)" font-family="Liberation Sans" font-size="3.86" text-anchor="middle" fill="#222" stroke="#222" stroke-width="0.150" stroke-linejoin="round">2 (8)</text>
<text transform="translate(22.45,197.60) scale(0.860,1)" font-family="Liberation Sans" font-size="3.98" text-anchor="middle" fill="#222" stroke="#222" stroke-width="0.150" stroke-linejoin="round">CR after induction</text>
<text transform="translate(88.75,197.60) scale(0.860,1)" font-family="Liberation Sans" font-size="3.86" text-anchor="middle" fill="#222" stroke="#222" stroke-width="0.150" stroke-linejoin="round">74 (77)</text>
<text transform="translate(120.75,197.60) scale(0.860,1)" font-family="Liberation Sans" font-size="3.86" text-anchor="middle" fill="#222" stroke="#222" stroke-width="0.150" stroke-linejoin="round">58 (81.7)</text>
<text transform="translate(154.50,197.60) scale(0.860,1)" font-family="Liberation Sans" font-size="3.86" text-anchor="middle" fill="#222" stroke="#222" stroke-width="0.150" stroke-linejoin="round">16 (66.7)</text>
<text transform="translate(186.55,197.60) scale(0.860,1)" font-family="Liberation Sans" font-size="3.86" font-weight="bold" text-anchor="middle" fill="#222" stroke="#222" stroke-width="0.200" stroke-linejoin="round">0.075</text>
<text transform="translate(22.45,202.70) scale(0.860,1)" font-family="Liberation Sans" font-size="3.98" text-anchor="middle" fill="#222" stroke="#222" stroke-width="0.150" stroke-linejoin="round">CR after induction</text>
<text transform="translate(22.45,207.60) scale(0.860,1)" font-family="Liberation Sans" font-size="3.98" text-anchor="middle" fill="#222" stroke="#222" stroke-width="0.150" stroke-linejoin="round">COG</text>
<text transform="translate(88.75,202.70) scale(0.860,1)" font-family="Liberation Sans" font-size="3.86" text-anchor="middle" fill="#222" stroke="#222" stroke-width="0.150" stroke-linejoin="round">53 (84)</text>
<text transform="translate(120.75,202.70) scale(0.860,1)" font-family="Liberation Sans" font-size="3.86" text-anchor="middle" fill="#222" stroke="#222" stroke-width="0.150" stroke-linejoin="round">41 (85.1)</text>
<text transform="translate(154.50,202.70) scale(0.860,1)" font-family="Liberation Sans" font-size="3.86" text-anchor="middle" fill="#222" stroke="#222" stroke-width="0.150" stroke-linejoin="round">12 (85.7)</text>
<text transform="translate(186.55,202.70) scale(0.860,1)" font-family="Liberation Sans" font-size="3.86" font-weight="bold" text-anchor="middle" fill="#222" stroke="#222" stroke-width="0.200" stroke-linejoin="round">0.620</text>
<text transform="translate(22.45,212.70) scale(0.860,1)" font-family="Liberation Sans" font-size="3.98" text-anchor="middle" fill="#222" stroke="#222" stroke-width="0.150" stroke-linejoin="round">MRD neg after</text>
<text transform="translate(22.45,217.60) scale(0.860,1)" font-family="Liberation Sans" font-size="3.98" text-anchor="middle" fill="#222" stroke="#222" stroke-width="0.150" stroke-linejoin="round">induction</text>
<text transform="translate(88.75,212.70) scale(0.860,1)" font-family="Liberation Sans" font-size="3.86" text-anchor="middle" fill="#222" stroke="#222" stroke-width="0.150" stroke-linejoin="round">38 (52)</text>
<text transform="translate(120.75,212.70) scale(0.860,1)" font-family="Liberation Sans" font-size="3.86" text-anchor="middle" fill="#222" stroke="#222" stroke-width="0.150" stroke-linejoin="round">34 (61.8)</text>
<text transform="translate(154.50,212.70) scale(0.860,1)" font-family="Liberation Sans" font-size="3.86" text-anchor="middle" fill="#222" stroke="#222" stroke-width="0.150" stroke-linejoin="round">3 (23.1)</text>
<text transform="translate(186.55,212.70) scale(0.860,1)" font-family="Liberation Sans" font-size="3.86" font-weight="bold" text-anchor="middle" fill="#222" stroke="#222" stroke-width="0.200" stroke-linejoin="round">0.016</text>
<text transform="translate(22.45,222.50) scale(0.860,1)" font-family="Liberation Sans" font-size="3.98" text-anchor="middle" fill="#222" stroke="#222" stroke-width="0.150" stroke-linejoin="round">Best MRD neg</text>
<text transform="translate(88.75,222.50) scale(0.860,1)" font-family="Liberation Sans" font-size="3.86" text-anchor="middle" fill="#222" stroke="#222" stroke-width="0.150" stroke-linejoin="round">45 (50.8)</text>
<text transform="translate(120.75,222.50) scale(0.860,1)" font-family="Liberation Sans" font-size="3.86" text-anchor="middle" fill="#222" stroke="#222" stroke-width="0.150" stroke-linejoin="round">40 (66.7)</text>
<text transform="translate(154.50,222.50) scale(0.860,1)" font-family="Liberation Sans" font-size="3.86" text-anchor="middle" fill="#222" stroke="#222" stroke-width="0.150" stroke-linejoin="round">5 (35.7)</text>
<text transform="translate(186.55,222.50) scale(0.860,1)" font-family="Liberation Sans" font-size="3.86" text-anchor="middle" fill="#222" stroke="#222" stroke-width="0.150" stroke-linejoin="round">0.065</text>
<text transform="translate(22.45,227.60) scale(0.860,1)" font-family="Liberation Sans" font-size="3.98" text-anchor="middle" fill="#222" stroke="#222" stroke-width="0.150" stroke-linejoin="round">Death</text>
<text transform="translate(88.75,227.60) scale(0.860,1)" font-family="Liberation Sans" font-size="3.86" text-anchor="middle" fill="#222" stroke="#222" stroke-width="0.150" stroke-linejoin="round">24 (25)</text>
<text transform="translate(120.75,227.60) scale(0.860,1)" font-family="Liberation Sans" font-size="3.86" text-anchor="middle" fill="#222" stroke="#222" stroke-width="0.150" stroke-linejoin="round">15 (21.1)</text>
<text transform="translate(154.50,227.60) scale(0.860,1)" font-family="Liberation Sans" font-size="3.86" text-anchor="middle" fill="#222" stroke="#222" stroke-width="0.150" stroke-linejoin="round">9 (36.0)</text>
<text transform="translate(186.55,227.60) scale(0.860,1)" font-family="Liberation Sans" font-size="3.86" text-anchor="middle" fill="#222" stroke="#222" stroke-width="0.150" stroke-linejoin="round">0.180</text>
<text transform="translate(22.45,232.70) scale(0.860,1)" font-family="Liberation Sans" font-size="3.98" text-anchor="middle" fill="#222" stroke="#222" stroke-width="0.150" stroke-linejoin="round">Early Death</text>
<text transform="translate(22.45,237.60) scale(0.860,1)" font-family="Liberation Sans" font-size="3.98" text-anchor="middle" fill="#222" stroke="#222" stroke-width="0.150" stroke-linejoin="round">COG protocol</text>
<text transform="translate(56.50,232.70) scale(0.860,1)" font-family="Liberation Sans" font-size="3.98" text-anchor="middle" fill="#222" stroke="#222" stroke-width="0.150" stroke-linejoin="round">AYA</text>
<text transform="translate(88.75,232.70) scale(0.860,1)" font-family="Liberation Sans" font-size="3.86" text-anchor="middle" fill="#222" stroke="#222" stroke-width="0.150" stroke-linejoin="round">4 (6.3)</text>
<text transform="translate(120.75,232.70) scale(0.860,1)" font-family="Liberation Sans" font-size="3.86" text-anchor="middle" fill="#222" stroke="#222" stroke-width="0.150" stroke-linejoin="round">2 (4.1)</text>
<text transform="translate(154.50,232.70) scale(0.860,1)" font-family="Liberation Sans" font-size="3.86" text-anchor="middle" fill="#222" stroke="#222" stroke-width="0.150" stroke-linejoin="round">2 (13)</text>
<text transform="translate(186.55,232.70) scale(0.860,1)" font-family="Liberation Sans" font-size="3.86" font-weight="bold" text-anchor="middle" fill="#222" stroke="#222" stroke-width="0.200" stroke-linejoin="round">0.488</text>
<text transform="translate(56.50,237.80) scale(0.860,1)" font-family="Liberation Sans" font-size="3.98" text-anchor="middle" fill="#222" stroke="#222" stroke-width="0.150" stroke-linejoin="round">50- adult</text>
<text transform="translate(88.75,237.80) scale(0.860,1)" font-family="Liberation Sans" font-size="3.86" text-anchor="middle" fill="#222" stroke="#222" stroke-width="0.150" stroke-linejoin="round">3 (4.7)</text>
<text transform="translate(120.75,237.80) scale(0.860,1)" font-family="Liberation Sans" font-size="3.86" text-anchor="middle" fill="#222" stroke="#222" stroke-width="0.150" stroke-linejoin="round">1 (4.7)</text>
<text transform="translate(154.50,237.80) scale(0.860,1)" font-family="Liberation Sans" font-size="3.86" text-anchor="middle" fill="#222" stroke="#222" stroke-width="0.150" stroke-linejoin="round">4</text>
<text transform="translate(56.50,242.80) scale(0.860,1)" font-family="Liberation Sans" font-size="3.98" text-anchor="middle" fill="#222" stroke="#222" stroke-width="0.150" stroke-linejoin="round">Total</text>
<text transform="translate(88.75,242.80) scale(0.860,1)" font-family="Liberation Sans" font-size="3.86" text-anchor="middle" fill="#222" stroke="#222" stroke-width="0.150" stroke-linejoin="round">7 (11.1)</text>
<text transform="translate(120.75,242.80) scale(0.860,1)" font-family="Liberation Sans" font-size="3.86" text-anchor="middle" fill="#222" stroke="#222" stroke-width="0.150" stroke-linejoin="round">5 (10.4)</text>
<text transform="translate(154.50,242.80) scale(0.860,1)" font-family="Liberation Sans" font-size="3.86" text-anchor="middle" fill="#222" stroke="#222" stroke-width="0.150" stroke-linejoin="round">2 (13)</text>
<text transform="translate(22.45,247.80) scale(0.860,1)" font-family="Liberation Sans" font-size="3.98" text-anchor="middle" fill="#222" stroke="#222" stroke-width="0.150" stroke-linejoin="round">Relapse</text>
<text transform="translate(88.75,247.80) scale(0.860,1)" font-family="Liberation Sans" font-size="3.86" text-anchor="middle" fill="#222" stroke="#222" stroke-width="0.150" stroke-linejoin="round">16 (16.6)</text>
<text transform="translate(120.75,247.80) scale(0.860,1)" font-family="Liberation Sans" font-size="3.86" text-anchor="middle" fill="#222" stroke="#222" stroke-width="0.150" stroke-linejoin="round">7 (9.8)</text>
<text transform="translate(154.50,247.80) scale(0.860,1)" font-family="Liberation Sans" font-size="3.86" text-anchor="middle" fill="#222" stroke="#222" stroke-width="0.150" stroke-linejoin="round">9 (36)</text>
<text transform="translate(186.55,247.80) scale(0.860,1)" font-family="Liberation Sans" font-size="3.86" text-anchor="middle" fill="#222" stroke="#222" stroke-width="0.150" stroke-linejoin="round">0.655</text>
<text transform="translate(22.45,252.70) scale(0.860,1)" font-family="Liberation Sans" font-size="3.98" text-anchor="middle" fill="#222" stroke="#222" stroke-width="0.150" stroke-linejoin="round">HCT</text>
<text transform="translate(88.75,252.70) scale(0.860,1)" font-family="Liberation Sans" font-size="3.86" text-anchor="middle" fill="#222" stroke="#222" stroke-width="0.150" stroke-linejoin="round">8 (8.3)</text>
<text transform="translate(120.75,252.70) scale(0.860,1)" font-family="Liberation Sans" font-size="3.86" text-anchor="middle" fill="#222" stroke="#222" stroke-width="0.150" stroke-linejoin="round">7 (9.8)</text>
<text transform="translate(154.50,252.70) scale(0.860,1)" font-family="Liberation Sans" font-size="3.86" text-anchor="middle" fill="#222" stroke="#222" stroke-width="0.150" stroke-linejoin="round">2 (8)</text>
<text transform="translate(186.55,252.70) scale(0.860,1)" font-family="Liberation Sans" font-size="3.86" text-anchor="middle" fill="#222" stroke="#222" stroke-width="0.150" stroke-linejoin="round">0.659</text>
<line x1="230.50" y1="19.50" x2="230.50" y2="117.80" stroke="#8a8a8a" stroke-width="0.7"/>
<line x1="229.20" y1="114.40" x2="230.50" y2="114.40" stroke="#6a6a6a" stroke-width="0.6"/>
<text transform="translate(226.60,115.50) scale(0.860,1)" font-family="Liberation Sans" font-size="3.51" text-anchor="end" fill="#222" stroke="#222" stroke-width="0.240" stroke-linejoin="round">0.0</text>
<line x1="229.20" y1="96.30" x2="230.50" y2="96.30" stroke="#6a6a6a" stroke-width="0.6"/>
<text transform="translate(226.60,97.40) scale(0.860,1)" font-family="Liberation Sans" font-size="3.51" text-anchor="end" fill="#222" stroke="#222" stroke-width="0.240" stroke-linejoin="round">0.2</text>
<line x1="229.20" y1="78.20" x2="230.50" y2="78.20" stroke="#6a6a6a" stroke-width="0.6"/>
<text transform="translate(226.60,79.30) scale(0.860,1)" font-family="Liberation Sans" font-size="3.51" text-anchor="end" fill="#222" stroke="#222" stroke-width="0.240" stroke-linejoin="round">0.4</text>
<line x1="229.20" y1="60.10" x2="230.50" y2="60.10" stroke="#6a6a6a" stroke-width="0.6"/>
<text transform="translate(226.60,61.20) scale(0.860,1)" font-family="Liberation Sans" font-size="3.51" text-anchor="end" fill="#222" stroke="#222" stroke-width="0.240" stroke-linejoin="round">0.6</text>
<line x1="229.20" y1="42.00" x2="230.50" y2="42.00" stroke="#6a6a6a" stroke-width="0.6"/>
<text transform="translate(226.60,43.10) scale(0.860,1)" font-family="Liberation Sans" font-size="3.51" text-anchor="end" fill="#222" stroke="#222" stroke-width="0.240" stroke-linejoin="round">0.8</text>
<line x1="229.20" y1="23.90" x2="230.50" y2="23.90" stroke="#6a6a6a" stroke-width="0.6"/>
<text transform="translate(226.60,25.00) scale(0.860,1)" font-family="Liberation Sans" font-size="3.51" text-anchor="end" fill="#222" stroke="#222" stroke-width="0.240" stroke-linejoin="round">1.0</text>
<text transform="translate(234.80,125.50) scale(0.860,1)" font-family="Liberation Sans" font-size="3.51" text-anchor="middle" fill="#222" stroke="#222" stroke-width="0.240" stroke-linejoin="round">0</text>
<text transform="translate(261.15,125.50) scale(0.860,1)" font-family="Liberation Sans" font-size="3.51" text-anchor="middle" fill="#222" stroke="#222" stroke-width="0.240" stroke-linejoin="round">2</text>
<text transform="translate(287.50,125.50) scale(0.860,1)" font-family="Liberation Sans" font-size="3.51" text-anchor="middle" fill="#222" stroke="#222" stroke-width="0.240" stroke-linejoin="round">4</text>
<text transform="translate(313.85,125.50) scale(0.860,1)" font-family="Liberation Sans" font-size="3.51" text-anchor="middle" fill="#222" stroke="#222" stroke-width="0.240" stroke-linejoin="round">6</text>
<text transform="translate(340.20,125.50) scale(0.860,1)" font-family="Liberation Sans" font-size="3.51" text-anchor="middle" fill="#222" stroke="#222" stroke-width="0.240" stroke-linejoin="round">8</text>
<text transform="translate(287.50,131.00) scale(0.860,1)" font-family="Liberation Sans" font-size="3.51" text-anchor="middle" fill="#222" stroke="#222" stroke-width="0.240" stroke-linejoin="round">Years</text>
<g transform="translate(219.90,69.15) rotate(-90)"><text transform="translate(0.00,0.00) scale(1.000,1)" font-family="Liberation Sans" font-size="3.86" text-anchor="middle" fill="#333" stroke="#333" stroke-width="0.200" stroke-linejoin="round">OS</text></g>
<text transform="translate(230.30,132.60) scale(0.860,1)" font-family="Liberation Sans" font-size="3.51" fill="#222" stroke="#222" stroke-width="0.240" stroke-linejoin="round">Number at risk</text>
<text transform="translate(234.80,137.20) scale(0.860,1)" font-family="Liberation Sans" font-size="3.51" text-anchor="middle" fill="#222" stroke="#222" stroke-width="0.240" stroke-linejoin="round">90</text>
<text transform="translate(261.15,137.20) scale(0.860,1)" font-family="Liberation Sans" font-size="3.51" text-anchor="middle" fill="#222" stroke="#222" stroke-width="0.240" stroke-linejoin="round">36</text>
<text transform="translate(287.50,137.20) scale(0.860,1)" font-family="Liberation Sans" font-size="3.51" text-anchor="middle" fill="#222" stroke="#222" stroke-width="0.240" stroke-linejoin="round">12</text>
<text transform="translate(313.85,137.20) scale(0.860,1)" font-family="Liberation Sans" font-size="3.51" text-anchor="middle" fill="#222" stroke="#222" stroke-width="0.240" stroke-linejoin="round">3</text>
<text transform="translate(340.20,137.20) scale(0.860,1)" font-family="Liberation Sans" font-size="3.51" text-anchor="middle" fill="#222" stroke="#222" stroke-width="0.240" stroke-linejoin="round">1</text>
<path d="M234.80,23.90H234.87V24.84H234.93V25.79H234.93V26.73H235.00V27.68H235.00V28.62H235.06V29.56H235.26V30.51H235.72V31.45H236.25V32.39H236.71V33.34H237.24V34.28H237.90V35.23H238.75V36.17H239.67V37.11H240.53V38.06H241.39V39.00H242.31V39.94H243.30V40.89H244.29V41.83H245.21V42.78H248.57V43.72H252.06V44.66H255.48V45.61H258.91V46.55H260.16V47.49H261.41V48.44H262.60V49.38H263.13V50.33" fill="none" stroke="#2a2a2a" stroke-width="0.8" stroke-linejoin="round"/>
<path d="M263.13,50.33H342.83" fill="none" stroke="#888" stroke-width="0.6"/>
<path d="M238.09,34.13V36.33M237.09,35.23H239.09" stroke="#2a2a2a" stroke-width="0.45" fill="none"/>
<path d="M239.41,35.07V37.27M238.41,36.17H240.41" stroke="#2a2a2a" stroke-width="0.45" fill="none"/>
<path d="M241.39,37.90V40.10M240.39,39.00H242.39" stroke="#2a2a2a" stroke-width="0.45" fill="none"/>
<path d="M242.71,38.84V41.04M241.71,39.94H243.71" stroke="#2a2a2a" stroke-width="0.45" fill="none"/>
<path d="M246.66,41.68V43.88M245.66,42.78H247.66" stroke="#2a2a2a" stroke-width="0.45" fill="none"/>
<path d="M250.61,42.62V44.82M249.61,43.72H251.61" stroke="#2a2a2a" stroke-width="0.45" fill="none"/>
<path d="M254.56,43.56V45.76M253.56,44.66H255.56" stroke="#2a2a2a" stroke-width="0.45" fill="none"/>
<path d="M255.88,44.51V46.71M254.88,45.61H256.88" stroke="#2a2a2a" stroke-width="0.45" fill="none"/>
<path d="M259.83,45.45V47.65M258.83,46.55H260.83" stroke="#2a2a2a" stroke-width="0.45" fill="none"/>
<path d="M261.15,46.39V48.59M260.15,47.49H262.15" stroke="#2a2a2a" stroke-width="0.45" fill="none"/>
<path d="M263.79,49.23V51.43M262.79,50.33H264.79" stroke="#888" stroke-width="0.45" fill="none"/>
<path d="M265.50,49.23V51.43M264.50,50.33H266.50" stroke="#888" stroke-width="0.45" fill="none"/>
<path d="M267.21,49.23V51.43M266.21,50.33H268.21" stroke="#888" stroke-width="0.45" fill="none"/>
<path d="M268.92,49.23V51.43M267.92,50.33H269.92" stroke="#888" stroke-width="0.45" fill="none"/>
<path d="M270.64,49.23V51.43M269.64,50.33H271.64" stroke="#888" stroke-width="0.45" fill="none"/>
<path d="M272.35,49.23V51.43M271.35,50.33H273.35" stroke="#888" stroke-width="0.45" fill="none"/>
<path d="M274.06,49.23V51.43M273.06,50.33H275.06" stroke="#888" stroke-width="0.45" fill="none"/>
<path d="M275.77,49.23V51.43M274.77,50.33H276.77" stroke="#888" stroke-width="0.45" fill="none"/>
<path d="M277.49,49.23V51.43M276.49,50.33H278.49" stroke="#888" stroke-width="0.45" fill="none"/>
<path d="M279.20,49.23V51.43M278.20,50.33H280.20" stroke="#888" stroke-width="0.45" fill="none"/>
<path d="M280.91,49.23V51.43M279.91,50.33H281.91" stroke="#888" stroke-width="0.45" fill="none"/>
<path d="M282.63,49.23V51.43M281.63,50.33H283.63" stroke="#888" stroke-width="0.45" fill="none"/>
<path d="M284.34,49.23V51.43M283.34,50.33H285.34" stroke="#888" stroke-width="0.45" fill="none"/>
<path d="M286.05,49.23V51.43M285.05,50.33H287.05" stroke="#888" stroke-width="0.45" fill="none"/>
<path d="M287.76,49.23V51.43M286.76,50.33H288.76" stroke="#888" stroke-width="0.45" fill="none"/>
<path d="M289.48,49.23V51.43M288.48,50.33H290.48" stroke="#888" stroke-width="0.45" fill="none"/>
<path d="M291.19,49.23V51.43M290.19,50.33H292.19" stroke="#888" stroke-width="0.45" fill="none"/>
<path d="M300.02,49.23V51.43M299.02,50.33H301.02" stroke="#888" stroke-width="0.45" fill="none"/>
<path d="M304.63,49.23V51.43M303.63,50.33H305.63" stroke="#888" stroke-width="0.45" fill="none"/>
<path d="M312.53,49.23V51.43M311.53,50.33H313.53" stroke="#888" stroke-width="0.45" fill="none"/>
<path d="M317.80,49.23V51.43M316.80,50.33H318.80" stroke="#888" stroke-width="0.45" fill="none"/>
<path d="M325.05,49.23V51.43M324.05,50.33H326.05" stroke="#888" stroke-width="0.45" fill="none"/>
<path d="M329.66,49.23V51.43M328.66,50.33H330.66" stroke="#888" stroke-width="0.45" fill="none"/>
<path d="M342.18,49.23V51.43M341.18,50.33H343.18" stroke="#888" stroke-width="0.45" fill="none"/>
<line x1="386.50" y1="20.50" x2="386.50" y2="120.00" stroke="#8a8a8a" stroke-width="0.7"/>
<line x1="385.20" y1="116.40" x2="386.50" y2="116.40" stroke="#6a6a6a" stroke-width="0.6"/>
<text transform="translate(382.60,117.50) scale(0.860,1)" font-family="Liberation Sans" font-size="3.51" text-anchor="end" fill="#222" stroke="#222" stroke-width="0.240" stroke-linejoin="round">0.0</text>
<line x1="385.20" y1="98.04" x2="386.50" y2="98.04" stroke="#6a6a6a" stroke-width="0.6"/>
<text transform="translate(382.60,99.14) scale(0.860,1)" font-family="Liberation Sans" font-size="3.51" text-anchor="end" fill="#222" stroke="#222" stroke-width="0.240" stroke-linejoin="round">0.2</text>
<line x1="385.20" y1="79.68" x2="386.50" y2="79.68" stroke="#6a6a6a" stroke-width="0.6"/>
<text transform="translate(382.60,80.78) scale(0.860,1)" font-family="Liberation Sans" font-size="3.51" text-anchor="end" fill="#222" stroke="#222" stroke-width="0.240" stroke-linejoin="round">0.4</text>
<line x1="385.20" y1="61.32" x2="386.50" y2="61.32" stroke="#6a6a6a" stroke-width="0.6"/>
<text transform="translate(382.60,62.42) scale(0.860,1)" font-family="Liberation Sans" font-size="3.51" text-anchor="end" fill="#222" stroke="#222" stroke-width="0.240" stroke-linejoin="round">0.6</text>
<line x1="385.20" y1="42.96" x2="386.50" y2="42.96" stroke="#6a6a6a" stroke-width="0.6"/>
<text transform="translate(382.60,44.06) scale(0.860,1)" font-family="Liberation Sans" font-size="3.51" text-anchor="end" fill="#222" stroke="#222" stroke-width="0.240" stroke-linejoin="round">0.8</text>
<line x1="385.20" y1="24.60" x2="386.50" y2="24.60" stroke="#6a6a6a" stroke-width="0.6"/>
<text transform="translate(382.60,25.70) scale(0.860,1)" font-family="Liberation Sans" font-size="3.51" text-anchor="end" fill="#222" stroke="#222" stroke-width="0.240" stroke-linejoin="round">1.0</text>
<text transform="translate(391.20,127.80) scale(0.860,1)" font-family="Liberation Sans" font-size="3.51" text-anchor="middle" fill="#222" stroke="#222" stroke-width="0.240" stroke-linejoin="round">0</text>
<text transform="translate(417.88,127.80) scale(0.860,1)" font-family="Liberation Sans" font-size="3.51" text-anchor="middle" fill="#222" stroke="#222" stroke-width="0.240" stroke-linejoin="round">2</text>
<text transform="translate(444.55,127.80) scale(0.860,1)" font-family="Liberation Sans" font-size="3.51" text-anchor="middle" fill="#222" stroke="#222" stroke-width="0.240" stroke-linejoin="round">4</text>
<text transform="translate(471.22,127.80) scale(0.860,1)" font-family="Liberation Sans" font-size="3.51" text-anchor="middle" fill="#222" stroke="#222" stroke-width="0.240" stroke-linejoin="round">6</text>
<text transform="translate(497.90,127.80) scale(0.860,1)" font-family="Liberation Sans" font-size="3.51" text-anchor="middle" fill="#222" stroke="#222" stroke-width="0.240" stroke-linejoin="round">8</text>
<text transform="translate(444.55,133.40) scale(0.860,1)" font-family="Liberation Sans" font-size="3.51" text-anchor="middle" fill="#222" stroke="#222" stroke-width="0.240" stroke-linejoin="round">Years</text>
<g transform="translate(375.60,70.50) rotate(-90)"><text transform="translate(0.00,0.00) scale(1.000,1)" font-family="Liberation Sans" font-size="3.86" text-anchor="middle" fill="#333" stroke="#333" stroke-width="0.200" stroke-linejoin="round">RFS</text></g>
<text transform="translate(386.00,135.60) scale(0.860,1)" font-family="Liberation Sans" font-size="3.51" fill="#222" stroke="#222" stroke-width="0.240" stroke-linejoin="round">Number at risk</text>
<text transform="translate(391.20,139.60) scale(0.860,1)" font-family="Liberation Sans" font-size="3.51" text-anchor="middle" fill="#222" stroke="#222" stroke-width="0.240" stroke-linejoin="round">90</text>
<text transform="translate(417.88,139.60) scale(0.860,1)" font-family="Liberation Sans" font-size="3.51" text-anchor="middle" fill="#222" stroke="#222" stroke-width="0.240" stroke-linejoin="round">30</text>
<text transform="translate(444.55,139.60) scale(0.860,1)" font-family="Liberation Sans" font-size="3.51" text-anchor="middle" fill="#222" stroke="#222" stroke-width="0.240" stroke-linejoin="round">11</text>
<text transform="translate(471.22,139.60) scale(0.860,1)" font-family="Liberation Sans" font-size="3.51" text-anchor="middle" fill="#222" stroke="#222" stroke-width="0.240" stroke-linejoin="round">3</text>
<text transform="translate(497.90,139.60) scale(0.860,1)" font-family="Liberation Sans" font-size="3.51" text-anchor="middle" fill="#222" stroke="#222" stroke-width="0.240" stroke-linejoin="round">1</text>
<path d="M391.20,24.60H391.27V25.62H391.27V26.64H391.33V27.66H391.33V28.68H391.33V29.70H391.40V30.72H391.40V31.74H391.40V32.76H391.80V33.79H392.20V34.81H392.60V35.83H393.00V36.85H393.40V37.87H394.27V38.89H395.47V39.91H396.47V40.93H396.60V41.95H396.74V42.97H396.94V43.99H398.40V45.01H401.00V46.03H402.80V47.05H404.60V48.07H406.67V49.09H408.94V50.11H410.94V51.14H412.94V52.16H415.27V53.18H417.54V54.20H418.48V55.22H419.21V56.24H419.88V57.26H421.88V58.28H423.88V59.30" fill="none" stroke="#2a2a2a" stroke-width="0.8" stroke-linejoin="round"/>
<path d="M423.88,59.30H499.77" fill="none" stroke="#888" stroke-width="0.6"/>
<path d="M393.87,36.77V38.97M392.87,37.87H394.87" stroke="#2a2a2a" stroke-width="0.45" fill="none"/>
<path d="M395.20,37.79V39.99M394.20,38.89H396.20" stroke="#2a2a2a" stroke-width="0.45" fill="none"/>
<path d="M397.87,42.89V45.09M396.87,43.99H398.87" stroke="#2a2a2a" stroke-width="0.45" fill="none"/>
<path d="M401.87,44.93V47.13M400.87,46.03H402.87" stroke="#2a2a2a" stroke-width="0.45" fill="none"/>
<path d="M405.87,46.97V49.17M404.87,48.07H406.87" stroke="#2a2a2a" stroke-width="0.45" fill="none"/>
<path d="M408.54,47.99V50.19M407.54,49.09H409.54" stroke="#2a2a2a" stroke-width="0.45" fill="none"/>
<path d="M413.87,51.06V53.26M412.87,52.16H414.87" stroke="#2a2a2a" stroke-width="0.45" fill="none"/>
<path d="M416.54,52.08V54.28M415.54,53.18H417.54" stroke="#2a2a2a" stroke-width="0.45" fill="none"/>
<path d="M420.54,56.16V58.36M419.54,57.26H421.54" stroke="#2a2a2a" stroke-width="0.45" fill="none"/>
<path d="M424.54,58.20V60.40M423.54,59.30H425.54" stroke="#888" stroke-width="0.45" fill="none"/>
<path d="M426.41,58.20V60.40M425.41,59.30H427.41" stroke="#888" stroke-width="0.45" fill="none"/>
<path d="M428.28,58.20V60.40M427.28,59.30H429.28" stroke="#888" stroke-width="0.45" fill="none"/>
<path d="M430.15,58.20V60.40M429.15,59.30H431.15" stroke="#888" stroke-width="0.45" fill="none"/>
<path d="M432.01,58.20V60.40M431.01,59.30H433.01" stroke="#888" stroke-width="0.45" fill="none"/>
<path d="M433.88,58.20V60.40M432.88,59.30H434.88" stroke="#888" stroke-width="0.45" fill="none"/>
<path d="M435.75,58.20V60.40M434.75,59.30H436.75" stroke="#888" stroke-width="0.45" fill="none"/>
<path d="M437.61,58.20V60.40M436.61,59.30H438.61" stroke="#888" stroke-width="0.45" fill="none"/>
<path d="M439.48,58.20V60.40M438.48,59.30H440.48" stroke="#888" stroke-width="0.45" fill="none"/>
<path d="M441.35,58.20V60.40M440.35,59.30H442.35" stroke="#888" stroke-width="0.45" fill="none"/>
<path d="M443.22,58.20V60.40M442.22,59.30H444.22" stroke="#888" stroke-width="0.45" fill="none"/>
<path d="M445.08,58.20V60.40M444.08,59.30H446.08" stroke="#888" stroke-width="0.45" fill="none"/>
<path d="M446.95,58.20V60.40M445.95,59.30H447.95" stroke="#888" stroke-width="0.45" fill="none"/>
<path d="M460.02,58.20V60.40M459.02,59.30H461.02" stroke="#888" stroke-width="0.45" fill="none"/>
<path d="M469.89,58.20V60.40M468.89,59.30H470.89" stroke="#888" stroke-width="0.45" fill="none"/>
<path d="M477.89,58.20V60.40M476.89,59.30H478.89" stroke="#888" stroke-width="0.45" fill="none"/>
<path d="M480.56,58.20V60.40M479.56,59.30H481.56" stroke="#888" stroke-width="0.45" fill="none"/>
<path d="M483.23,58.20V60.40M482.23,59.30H484.23" stroke="#888" stroke-width="0.45" fill="none"/>
<path d="M485.23,58.20V60.40M484.23,59.30H486.23" stroke="#888" stroke-width="0.45" fill="none"/>
<path d="M499.23,58.20V60.40M498.23,59.30H500.23" stroke="#888" stroke-width="0.45" fill="none"/>
<line x1="303.50" y1="170.60" x2="303.50" y2="262.20" stroke="#8a8a8a" stroke-width="0.7"/>
<line x1="302.20" y1="259.10" x2="303.50" y2="259.10" stroke="#6a6a6a" stroke-width="0.6"/>
<text transform="translate(299.60,260.20) scale(0.860,1)" font-family="Liberation Sans" font-size="3.51" text-anchor="end" fill="#222" stroke="#222" stroke-width="0.240" stroke-linejoin="round">0.0</text>
<line x1="302.20" y1="242.20" x2="303.50" y2="242.20" stroke="#6a6a6a" stroke-width="0.6"/>
<text transform="translate(299.60,243.30) scale(0.860,1)" font-family="Liberation Sans" font-size="3.51" text-anchor="end" fill="#222" stroke="#222" stroke-width="0.240" stroke-linejoin="round">0.2</text>
<line x1="302.20" y1="225.30" x2="303.50" y2="225.30" stroke="#6a6a6a" stroke-width="0.6"/>
<text transform="translate(299.60,226.40) scale(0.860,1)" font-family="Liberation Sans" font-size="3.51" text-anchor="end" fill="#222" stroke="#222" stroke-width="0.240" stroke-linejoin="round">0.4</text>
<line x1="302.20" y1="208.40" x2="303.50" y2="208.40" stroke="#6a6a6a" stroke-width="0.6"/>
<text transform="translate(299.60,209.50) scale(0.860,1)" font-family="Liberation Sans" font-size="3.51" text-anchor="end" fill="#222" stroke="#222" stroke-width="0.240" stroke-linejoin="round">0.6</text>
<line x1="302.20" y1="191.50" x2="303.50" y2="191.50" stroke="#6a6a6a" stroke-width="0.6"/>
<text transform="translate(299.60,192.60) scale(0.860,1)" font-family="Liberation Sans" font-size="3.51" text-anchor="end" fill="#222" stroke="#222" stroke-width="0.240" stroke-linejoin="round">0.8</text>
<line x1="302.20" y1="174.60" x2="303.50" y2="174.60" stroke="#6a6a6a" stroke-width="0.6"/>
<text transform="translate(299.60,175.70) scale(0.860,1)" font-family="Liberation Sans" font-size="3.51" text-anchor="end" fill="#222" stroke="#222" stroke-width="0.240" stroke-linejoin="round">1.0</text>
<text transform="translate(307.40,269.70) scale(0.860,1)" font-family="Liberation Sans" font-size="3.51" text-anchor="middle" fill="#222" stroke="#222" stroke-width="0.240" stroke-linejoin="round">0</text>
<text transform="translate(331.30,269.70) scale(0.860,1)" font-family="Liberation Sans" font-size="3.51" text-anchor="middle" fill="#222" stroke="#222" stroke-width="0.240" stroke-linejoin="round">2</text>
<text transform="translate(355.20,269.70) scale(0.860,1)" font-family="Liberation Sans" font-size="3.51" text-anchor="middle" fill="#222" stroke="#222" stroke-width="0.240" stroke-linejoin="round">4</text>
<text transform="translate(379.10,269.70) scale(0.860,1)" font-family="Liberation Sans" font-size="3.51" text-anchor="middle" fill="#222" stroke="#222" stroke-width="0.240" stroke-linejoin="round">6</text>
<text transform="translate(403.00,269.70) scale(0.860,1)" font-family="Liberation Sans" font-size="3.51" text-anchor="middle" fill="#222" stroke="#222" stroke-width="0.240" stroke-linejoin="round">8</text>
<text transform="translate(355.20,275.00) scale(0.860,1)" font-family="Liberation Sans" font-size="3.51" text-anchor="middle" fill="#222" stroke="#222" stroke-width="0.240" stroke-linejoin="round">Years</text>
<g transform="translate(293.30,216.85) rotate(-90)"><text transform="translate(0.00,0.00) scale(1.000,1)" font-family="Liberation Sans" font-size="3.86" text-anchor="middle" fill="#333" stroke="#333" stroke-width="0.200" stroke-linejoin="round">RFS</text></g>
<text transform="translate(303.80,279.00) scale(0.860,1)" font-family="Liberation Sans" font-size="3.51" fill="#222" stroke="#222" stroke-width="0.240" stroke-linejoin="round">Number at risk</text>
<text transform="translate(295.50,284.00) scale(0.860,1)" font-family="Liberation Sans" font-size="3.51" text-anchor="middle" fill="#222" stroke="#222" stroke-width="0.240" stroke-linejoin="round">0</text>
<text transform="translate(307.40,284.00) scale(0.860,1)" font-family="Liberation Sans" font-size="3.51" text-anchor="middle" fill="#222" stroke="#222" stroke-width="0.240" stroke-linejoin="round">33</text>
<text transform="translate(331.30,284.00) scale(0.860,1)" font-family="Liberation Sans" font-size="3.51" text-anchor="middle" fill="#222" stroke="#222" stroke-width="0.240" stroke-linejoin="round">9</text>
<text transform="translate(355.20,284.00) scale(0.860,1)" font-family="Liberation Sans" font-size="3.51" text-anchor="middle" fill="#222" stroke="#222" stroke-width="0.240" stroke-linejoin="round">3</text>
<text transform="translate(379.10,284.00) scale(0.860,1)" font-family="Liberation Sans" font-size="3.51" text-anchor="middle" fill="#222" stroke="#222" stroke-width="0.240" stroke-linejoin="round">0</text>
<text transform="translate(403.00,284.00) scale(0.860,1)" font-family="Liberation Sans" font-size="3.51" text-anchor="middle" fill="#222" stroke="#222" stroke-width="0.240" stroke-linejoin="round">0</text>
<text transform="translate(295.50,288.40) scale(0.860,1)" font-family="Liberation Sans" font-size="3.51" text-anchor="middle" fill="#222" stroke="#222" stroke-width="0.240" stroke-linejoin="round">1</text>
<text transform="translate(307.40,288.40) scale(0.860,1)" font-family="Liberation Sans" font-size="3.51" text-anchor="middle" fill="#222" stroke="#222" stroke-width="0.240" stroke-linejoin="round">57</text>
<text transform="translate(331.30,288.40) scale(0.860,1)" font-family="Liberation Sans" font-size="3.51" text-anchor="middle" fill="#222" stroke="#222" stroke-width="0.240" stroke-linejoin="round">26</text>
<text transform="translate(355.20,288.40) scale(0.860,1)" font-family="Liberation Sans" font-size="3.51" text-anchor="middle" fill="#222" stroke="#222" stroke-width="0.240" stroke-linejoin="round">12</text>
<text transform="translate(379.10,288.40) scale(0.860,1)" font-family="Liberation Sans" font-size="3.51" text-anchor="middle" fill="#222" stroke="#222" stroke-width="0.240" stroke-linejoin="round">5</text>
<text transform="translate(403.00,288.40) scale(0.860,1)" font-family="Liberation Sans" font-size="3.51" text-anchor="middle" fill="#222" stroke="#222" stroke-width="0.240" stroke-linejoin="round">1</text>
<path d="M307.40,174.60H307.70V177.26H307.94V179.91H308.18V182.57H309.85V185.22H312.18V187.88H312.48V190.53H312.84V193.19H313.55V195.85H315.65V198.50H316.66V201.16H317.56V203.81H318.27V206.47H332.61V209.12H332.73V211.78" fill="none" stroke="#555" stroke-width="0.5" stroke-linejoin="round"/>
<path d="M332.73,211.78H372.53" fill="none" stroke="#777" stroke-width="0.5"/>
<path d="M309.79,181.47V183.67M308.79,182.57H310.79" stroke="#555" stroke-width="0.45" fill="none"/>
<path d="M311.58,184.12V186.32M310.58,185.22H312.58" stroke="#555" stroke-width="0.45" fill="none"/>
<path d="M338.47,210.68V212.88M337.47,211.78H339.47" stroke="#777" stroke-width="0.45" fill="none"/>
<path d="M343.25,210.68V212.88M342.25,211.78H344.25" stroke="#777" stroke-width="0.45" fill="none"/>
<path d="M349.22,210.68V212.88M348.22,211.78H350.22" stroke="#777" stroke-width="0.45" fill="none"/>
<path d="M351.62,210.68V212.88M350.62,211.78H352.62" stroke="#777" stroke-width="0.45" fill="none"/>
<path d="M354.00,210.68V212.88M353.00,211.78H355.00" stroke="#777" stroke-width="0.45" fill="none"/>
<path d="M356.39,210.68V212.88M355.39,211.78H357.39" stroke="#777" stroke-width="0.45" fill="none"/>
<path d="M364.76,210.68V212.88M363.76,211.78H365.76" stroke="#777" stroke-width="0.45" fill="none"/>
<path d="M370.74,210.68V212.88M369.74,211.78H371.74" stroke="#777" stroke-width="0.45" fill="none"/>
<path d="M307.40,174.60H307.58V176.20H307.70V177.80H307.82V179.40H307.94V180.99H308.06V182.59H308.18V184.19H309.43V185.79H311.64V187.39H316.60V188.99H322.58V190.58H326.70V192.18H329.81V193.78" fill="none" stroke="#d4999c" stroke-width="0.5" stroke-linejoin="round"/>
<path d="M329.81,193.78H404.79" fill="none" stroke="#d4999c" stroke-width="0.5"/>
<path d="M310.98,184.69V186.89M309.98,185.79H311.98" stroke="#d4999c" stroke-width="0.45" fill="none"/>
<path d="M314.57,186.29V188.49M313.57,187.39H315.57" stroke="#d4999c" stroke-width="0.45" fill="none"/>
<path d="M319.35,187.89V190.09M318.35,188.99H320.35" stroke="#d4999c" stroke-width="0.45" fill="none"/>
<path d="M321.74,187.89V190.09M320.74,188.99H322.74" stroke="#d4999c" stroke-width="0.45" fill="none"/>
<path d="M336.08,192.68V194.88M335.08,193.78H337.08" stroke="#d4999c" stroke-width="0.45" fill="none"/>
<path d="M339.66,192.68V194.88M338.66,193.78H340.66" stroke="#d4999c" stroke-width="0.45" fill="none"/>
<path d="M343.25,192.68V194.88M342.25,193.78H344.25" stroke="#d4999c" stroke-width="0.45" fill="none"/>
<path d="M346.83,192.68V194.88M345.83,193.78H347.83" stroke="#d4999c" stroke-width="0.45" fill="none"/>
<path d="M351.62,192.68V194.88M350.62,193.78H352.62" stroke="#d4999c" stroke-width="0.45" fill="none"/>
<path d="M355.20,192.68V194.88M354.20,193.78H356.20" stroke="#d4999c" stroke-width="0.45" fill="none"/>
<path d="M359.98,192.68V194.88M358.98,193.78H360.98" stroke="#d4999c" stroke-width="0.45" fill="none"/>
<path d="M364.76,192.68V194.88M363.76,193.78H365.76" stroke="#d4999c" stroke-width="0.45" fill="none"/>
<path d="M368.34,192.68V194.88M367.34,193.78H369.34" stroke="#d4999c" stroke-width="0.45" fill="none"/>
<path d="M371.93,192.68V194.88M370.93,193.78H372.93" stroke="#d4999c" stroke-width="0.45" fill="none"/>
<path d="M377.90,192.68V194.88M376.90,193.78H378.90" stroke="#d4999c" stroke-width="0.45" fill="none"/>
<path d="M382.69,192.68V194.88M381.69,193.78H383.69" stroke="#d4999c" stroke-width="0.45" fill="none"/>
<path d="M388.66,192.68V194.88M387.66,193.78H389.66" stroke="#d4999c" stroke-width="0.45" fill="none"/>
<path d="M394.63,192.68V194.88M393.63,193.78H395.63" stroke="#d4999c" stroke-width="0.45" fill="none"/>
<path d="M400.61,192.68V194.88M399.61,193.78H401.61" stroke="#d4999c" stroke-width="0.45" fill="none"/>
<text transform="translate(401.30,180.20) scale(0.860,1)" font-family="Liberation Sans" font-size="2.69" fill="#555" stroke="#555" stroke-width="0.050" stroke-linejoin="round">Other</text>
<text transform="translate(401.30,184.00) scale(0.860,1)" font-family="Liberation Sans" font-size="2.69" fill="#555" stroke="#555" stroke-width="0.050" stroke-linejoin="round">COG</text>
</svg></div>
</body></html>
